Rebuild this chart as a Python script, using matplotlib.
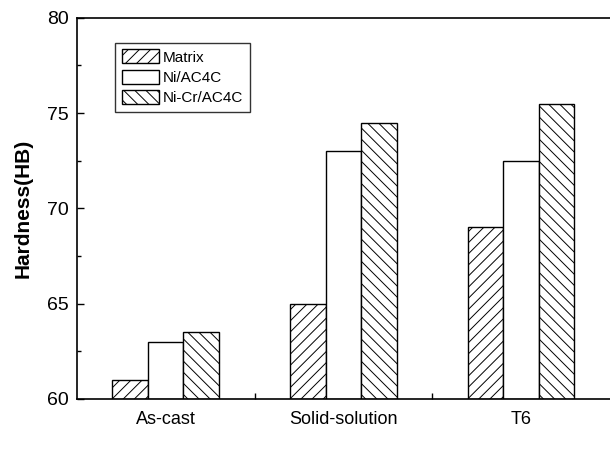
import matplotlib
matplotlib.use("Agg")
import matplotlib.pyplot as plt
import numpy as np
from matplotlib.ticker import MultipleLocator

plt.rcParams['font.family'] = ['Liberation Sans', 'DejaVu Sans']
plt.rcParams['hatch.linewidth'] = 0.7

categories = ["As-cast", "Solid-solution", "T6"]
series_names = ["Matrix", "Ni/AC4C", "Ni-Cr/AC4C"]
matrix = [61.0, 65.0, 69.0]
ni = [63.0, 73.0, 72.5]
nicr = [63.5, 74.5, 75.5]
yticks = [60, 65, 70, 75, 80]

fig = plt.figure(figsize=(6.10, 4.57), dpi=100)
ax = fig.add_axes([0.126, 0.127, 0.874, 0.834])

x = np.arange(len(categories))
w = 0.2
hatches = ['///', '', '\\\\\\']
for i, (name, vals) in enumerate(zip(series_names, [matrix, ni, nicr])):
    ax.bar(x + (i - 1) * w, np.array(vals) - 60, width=w, bottom=60,
           facecolor='white', edgecolor='black', linewidth=1.0,
           hatch=hatches[i], label=name)

ax.set_xlim(-0.5, 2.5)
ax.set_ylim(60, 80)
ax.set_yticks(yticks)
ax.yaxis.set_minor_locator(MultipleLocator(2.5))
ax.set_xticks(x)
ax.set_xticklabels(categories)
ax.set_xticks([0.5, 1.5], minor=True)
ax.tick_params(axis='x', which='major', length=0, labelsize=13, pad=9)
ax.tick_params(axis='x', which='minor', direction='in', length=4, width=1)
ax.tick_params(axis='y', which='major', direction='in', length=5, width=1, labelsize=14, pad=6)
ax.tick_params(axis='y', which='minor', direction='in', length=3, width=1)
for s in ['left', 'bottom', 'top']:
    ax.spines[s].set_linewidth(1.2)
ax.spines['right'].set_visible(False)

ax.set_ylabel("Hardness(HB)", fontsize=15, fontweight='bold', labelpad=10)

leg = ax.legend(loc='upper left', bbox_to_anchor=(0.072, 0.935), fontsize=11,
                frameon=True, fancybox=False, edgecolor='black',
                handlelength=2.4, handleheight=1.0, handletextpad=0.25,
                borderpad=0.45, labelspacing=0.35, borderaxespad=0)
leg.get_frame().set_linewidth(1.0)

fig.savefig("out.png", dpi=100)
